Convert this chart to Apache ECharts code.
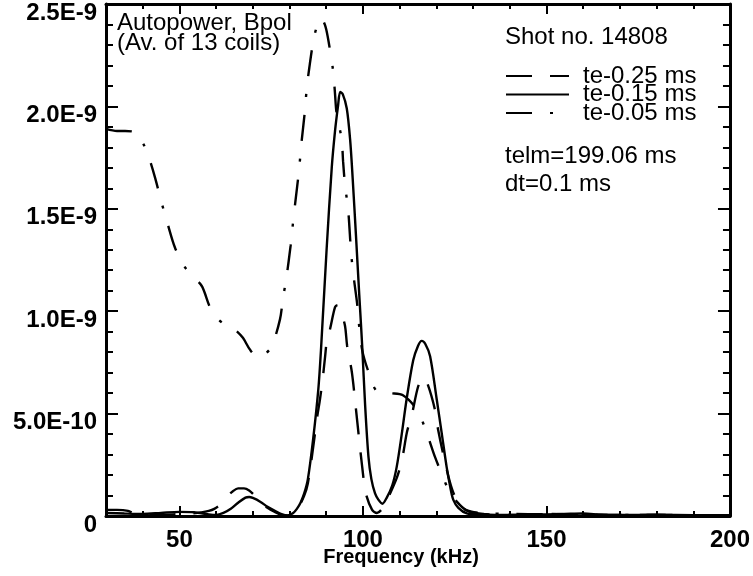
<!DOCTYPE html>
<html>
<head>
<meta charset="utf-8">
<script src="https://cdn.jsdelivr.net/npm/echarts@6/dist/echarts.min.js"></script>
<style>
html,body{margin:0;padding:0;background:#fff;}
#chart{width:753px;height:576px;}
</style>
</head>
<body>
<div id="chart"></div>
<script>
// ---- data ----
const seriesNames = ['te-0.25 ms', 'te-0.15 ms', 'te-0.05 ms'];
const xTickLabels = ['50', '100', '150', '200'];
const xMajorTicks = [50, 100, 150, 200];
const yTickLabels = ['0', '5.0E-10', '1.0E-9', '1.5E-9', '2.0E-9', '2.5E-9'];
const yMajorTicks = [0, 5e-10, 10e-10, 15e-10, 20e-10, 25e-10];

// te-0.25 ms (long dashes)
const freq025 = [30, 33, 36, 38, 45, 50, 55, 58, 59.5, 61.5, 63, 64.5, 66, 67.6, 69, 70.5, 72, 74, 76, 78,
  80, 82, 84, 85, 86.4, 87.5, 88.3, 89.1, 89.7, 90.2, 91, 92.4, 93.1, 93.8, 95.1, 95.7, 97, 98.4, 99.8, 100.8,
  102.5, 103.8, 105, 106.6, 109.3, 110.7, 112, 113.4, 115, 116.4, 117.7, 119.6, 120.5, 122.4, 124.3, 126.5, 129.2, 133, 140, 150,
  160, 170, 180, 190, 200];
const power025 = [0.3e-10, 0.3e-10, 0.25e-10, 0.1e-10, 0.05e-10, 0.1e-10, 0.15e-10, 0.25e-10, 0.35e-10, 0.6e-10,
  0.95e-10, 1.2e-10, 1.35e-10, 1.35e-10, 1.25e-10, 1.0e-10, 0.7e-10, 0.4e-10, 0.2e-10, 0.05e-10,
  0.02e-10, 0.3e-10, 1.0e-10, 1.6e-10, 3.3e-10, 4.8e-10, 5.7e-10, 6.8e-10, 7.8e-10, 8.6e-10,
  9.1e-10, 10.2e-10, 10.3e-10, 10.1e-10, 9.3e-10, 8.3e-10, 7.0e-10, 4.7e-10, 2.4e-10, 1.1e-10,
  0.3e-10, 0.15e-10, 0.3e-10, 0.8e-10, 1.9e-10, 2.8e-10, 4.1e-10, 5.0e-10, 6.3e-10, 6.8e-10,
  6.4e-10, 5.2e-10, 4.2e-10, 2.6e-10, 1.3e-10, 0.5e-10, 0.2e-10, 0.1e-10, 0.05e-10, 0.1e-10,
  0.08e-10, 0.05e-10, 0.06e-10, 0.04e-10, 0.04e-10];

// te-0.15 ms (solid)
const freq015 = [30, 35, 40, 45, 50, 54, 58, 60, 62, 64, 66, 68, 69, 70, 72, 74, 76, 78, 79.5, 81,
  82, 83, 84, 85, 86.4, 87.85, 88.6, 90.1, 91.5, 92.4, 93.2, 93.8, 94.5, 95.6, 96.5, 97.2, 98.1, 99, 99.8, 100.6,
  101.5, 102.3, 103.3, 104.2, 105.3, 106.5, 108, 109.2, 110.5, 111.9, 113.7, 115, 116, 117, 118.3, 120.1, 121.5, 122.8, 123.8, 124.6,
  126, 128.3, 132, 140, 150, 155, 160, 165, 170, 180, 190, 200];
const power015 = [0.15e-10, 0.12e-10, 0.1e-10, 0.15e-10, 0.2e-10, 0.18e-10, 0.08e-10, 0.05e-10, 0.15e-10, 0.35e-10,
  0.65e-10, 0.9e-10, 0.93e-10, 0.88e-10, 0.7e-10, 0.45e-10, 0.25e-10, 0.08e-10, 0.03e-10, 0.15e-10,
  0.35e-10, 0.65e-10, 1.1e-10, 1.8e-10, 3.7e-10, 6.2e-10, 8.2e-10, 13.0e-10, 17.0e-10, 18.8e-10,
  20.0e-10, 20.7e-10, 20.6e-10, 19.9e-10, 18.4e-10, 16.5e-10, 13.7e-10, 10.8e-10, 8.3e-10, 5.4e-10,
  2.9e-10, 1.8e-10, 1.1e-10, 0.8e-10, 0.6e-10, 0.9e-10, 1.5e-10, 2.4e-10, 3.9e-10, 5.7e-10,
  7.6e-10, 8.3e-10, 8.55e-10, 8.4e-10, 7.8e-10, 5.7e-10, 4.0e-10, 2.4e-10, 1.4e-10, 0.8e-10,
  0.4e-10, 0.13e-10, 0.08e-10, 0.05e-10, 0.08e-10, 0.1e-10, 0.12e-10, 0.06e-10, 0.05e-10, 0.05e-10,
  0.04e-10, 0.03e-10];

// te-0.05 ms (dash-dot)
const freq005 = [30, 33, 35.2, 38.4, 40.1, 41.7, 43.4, 45, 46.9, 48.8, 51.3, 54.3, 56.2, 58.3, 60, 61.9, 63.5, 65.1, 67.3, 69.3,
  71.5, 73.3, 75.2, 77.4, 78.2, 79.2, 80.3, 80.7, 81.5, 82.6, 82.9, 83.3, 84.2, 84.7, 85.4, 86.5, 87.6, 88.6, 89.8, 90.8,
  91.9, 92.4, 92.8, 94.2, 94.6, 95.1, 96.0, 96.8, 97.6, 98.4, 98.9, 99.8, 101.4, 103.8, 107.4, 110.9, 114.7, 117.1, 119.6, 121.6,
  123.5, 125.1, 128, 132, 140, 150, 160, 170, 180, 190, 200];
const power005 = [18.9e-10, 18.8e-10, 18.8e-10, 18.7e-10, 18.2e-10, 17.5e-10, 16.5e-10, 15.4e-10, 14.2e-10, 13.1e-10,
  12.2e-10, 11.6e-10, 11.2e-10, 10.2e-10, 9.7e-10, 9.4e-10, 9.2e-10, 9.1e-10, 8.7e-10, 8.1e-10,
  7.75e-10, 7.9e-10, 8.3e-10, 9.6e-10, 10.6e-10, 11.7e-10, 13.2e-10, 13.9e-10, 15.2e-10, 16.9e-10,
  17.5e-10, 18.3e-10, 19.8e-10, 20.9e-10, 21.9e-10, 23.2e-10, 24.0e-10, 24.3e-10, 23.9e-10, 23.0e-10,
  21.7e-10, 20.6e-10, 19.7e-10, 18.4e-10, 17.3e-10, 16.2e-10, 14.9e-10, 12.8e-10, 11.5e-10, 10.4e-10,
  9.4e-10, 8.1e-10, 7.1e-10, 6.1e-10, 6.0e-10, 5.9e-10, 5.2e-10, 4.2e-10, 2.9e-10, 2.0e-10,
  1.2e-10, 0.8e-10, 0.3e-10, 0.15e-10, 0.1e-10, 0.08e-10, 0.06e-10, 0.05e-10, 0.05e-10, 0.04e-10,
  0.04e-10];

// ---- chart ----
const FONT = '"Liberation Sans", Arial, Helvetica, sans-serif';
const zip = (xs, ys) => xs.map((x, i) => [x, ys[i]]);

const chart = echarts.init(document.getElementById('chart'), null, {renderer: 'canvas'});

function xAxisDef(pos, major, labels) {
  return {
    type: 'value', min: 30, max: 200, position: pos, interval: 10,
    axisLine: {show: !major, onZero: false, lineStyle: {color: '#000', width: 3}},
    axisTick: major
      ? {show: true, inside: true, length: 10, customValues: xMajorTicks, lineStyle: {color: '#000', width: 2}}
      : {show: true, inside: true, length: 5, lineStyle: {color: '#000', width: 2}},
    axisLabel: labels ? {
      show: true, margin: 12, color: '#000', fontSize: 24, fontWeight: 'bold', fontFamily: FONT,
      formatter: v => { const i = xMajorTicks.indexOf(Math.round(v)); return i >= 0 ? xTickLabels[i] : ''; }
    } : {show: false},
    splitLine: {show: false}
  };
}
function yAxisDef(pos, major, labels) {
  return {
    type: 'value', min: 0, max: 25e-10, position: pos, interval: 1e-10,
    axisLine: {show: !major, onZero: false, lineStyle: {color: '#000', width: 3}},
    axisTick: major
      ? {show: true, inside: true, length: 12, customValues: yMajorTicks, lineStyle: {color: '#000', width: 2}}
      : {show: true, inside: true, length: 7, lineStyle: {color: '#000', width: 2}},
    axisLabel: labels ? {
      show: true, margin: 9, color: '#000', fontSize: 24, fontWeight: 'bold', fontFamily: FONT,
      verticalAlign: 'top', lineHeight: 18,
      formatter: v => { const k = Math.round(v / 1e-10); return k % 5 === 0 ? yTickLabels[k / 5] : ''; }
    } : {show: false},
    splitLine: {show: false}
  };
}

const lineW = 2.4;
const option = {
  backgroundColor: '#fff',
  animation: false,
  grid: {left: 106, right: 23, top: 4, bottom: 60, containLabel: false},
  xAxis: [
    xAxisDef('bottom', false, true),
    xAxisDef('bottom', true, false),
    xAxisDef('top', false, false),
    xAxisDef('top', true, false)
  ],
  yAxis: [
    yAxisDef('left', false, true),
    yAxisDef('left', true, false),
    yAxisDef('right', false, false),
    yAxisDef('right', true, false)
  ],
  legend: {
    orient: 'vertical', left: 505, top: 64, padding: 0,
    itemWidth: 63, itemHeight: 14, itemGap: -5.5,
    data: seriesNames,
    itemStyle: {opacity: 0, borderWidth: 0},
    textStyle: {fontSize: 24, fontFamily: FONT, color: '#000', padding: [0, 0, 0, 9]},
    selectedMode: false
  },
  series: [
    {name: seriesNames[0], type: 'line', data: zip(freq025, power025), symbol: 'none', smooth: 0.3,
     lineStyle: {color: '#000', width: lineW, type: [26, 18]}, itemStyle: {color: '#000'}},
    {name: seriesNames[1], type: 'line', data: zip(freq015, power015), symbol: 'none', smooth: 0.3,
     lineStyle: {color: '#000', width: lineW, type: 'solid'}, itemStyle: {color: '#000'}},
    {name: seriesNames[2], type: 'line', data: zip(freq005, power005), symbol: 'none', smooth: 0.3,
     lineStyle: {color: '#000', width: lineW, type: [26, 18, 3, 18]}, itemStyle: {color: '#000'}}
  ],
  graphic: [
    {type: 'text', x: 117, y: 23, style: {text: 'Autopower, Bpol', fontSize: 24, fontFamily: FONT, fill: '#000', verticalAlign: 'middle'}},
    {type: 'text', x: 117, y: 43, style: {text: '(Av. of 13 coils)', fontSize: 24, fontFamily: FONT, fill: '#000', verticalAlign: 'middle'}},
    {type: 'text', x: 505, y: 37, style: {text: 'Shot no. 14808', fontSize: 24, fontFamily: FONT, fill: '#000', verticalAlign: 'middle'}},
    {type: 'text', x: 505, y: 156, style: {text: 'telm=199.06 ms', fontSize: 24, fontFamily: FONT, fill: '#000', verticalAlign: 'middle'}},
    {type: 'text', x: 505, y: 184, style: {text: 'dt=0.1 ms', fontSize: 24, fontFamily: FONT, fill: '#000', verticalAlign: 'middle'}},
    {type: 'text', x: 401, y: 557, style: {text: 'Frequency (kHz)', fontSize: 20, fontWeight: 'bold', fontFamily: FONT, fill: '#000', align: 'center', verticalAlign: 'middle'}}
  ]
};
chart.setOption(option);
</script>
</body>
</html>
